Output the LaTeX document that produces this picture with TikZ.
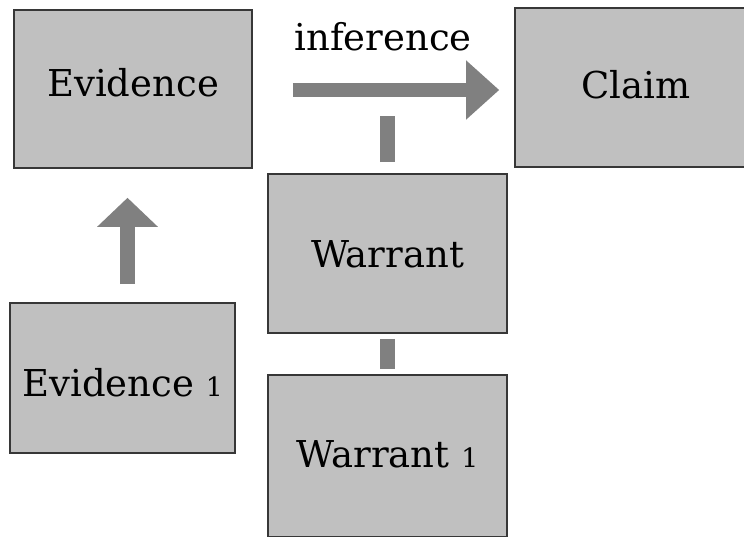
\documentclass[tikz,border=0pt]{standalone}
\usepackage{fontspec}
\setmainfont{DejaVu Serif}
\usetikzlibrary{arrows.meta}
\definecolor{boxfill}{RGB}{192,192,192}
\definecolor{boxline}{RGB}{55,55,55}
\definecolor{arrowgray}{RGB}{128,128,128}
\newcommand{\osone}{\scalebox{0.72}{1}}
\tikzset{
  box/.style={draw=boxline, line width=1.6pt, fill=boxfill, inner sep=0pt,
    font=\fontsize{37}{40}\selectfont, text depth=0pt},
  bigarrow/.style={draw=arrowgray, line width=14pt,
    -{Triangle[length=33pt,width=57pt]}},
  bar/.style={draw=arrowgray, line width=15pt}
}
\begin{document}
\begin{tikzpicture}[x=1pt,y=-1pt]
\useasboundingbox (0,0) rectangle (744,536);
\clip (0,0) rectangle (744,536);
\fill[white] (0,0) rectangle (744,536);
\node[box, minimum width=238pt, minimum height=158pt, text height=14pt] (ev) at (133,89) {Evidence};
\node[box, minimum width=242pt, minimum height=159pt, text height=21pt] (cl) at (636,87.5) {Claim};
\node[box, minimum width=239pt, minimum height=159pt, text height=27pt] (war) at (387.5,253.5) {Warrant};
\node[box, minimum width=239pt, minimum height=162pt, text height=22pt] (wone) at (387.5,456) {Warrant \osone};
\node[box, minimum width=225pt, minimum height=150pt, text height=36pt] (eone) at (122.5,378) {Evidence \osone};
\node[font=\fontsize{37}{40}\selectfont, anchor=base] (inf) at (383,50) {inference};
% inference arrow
\coordinate (infs) at ([xshift=40pt]ev.east |- 0,90);
\coordinate (infe) at ([xshift=-15pt]cl.west |- 0,90);
\draw[bigarrow] (infs) -- (infe);
% warrant bar towards the inference arrow
\coordinate (wtop) at ([yshift=11pt]war.north);
\coordinate (wbar) at ([yshift=57pt]war.north);
\draw[bar] (wtop) -- (wbar);
% bar between warrant and warrant 1
\draw[bar] ([yshift=-5pt]war.south) -- ([yshift=5pt]wone.north);
% evidence 1 up arrow
\coordinate (eus) at ([yshift=18pt]eone.north -| 127.5,0);
\coordinate (eue) at ([yshift=-29pt]ev.south -| 127.5,0);
\draw[bigarrow, line width=15pt, -{Triangle[length=29pt,width=59pt]}] (eus) -- (eue);
\end{tikzpicture}
\end{document}
